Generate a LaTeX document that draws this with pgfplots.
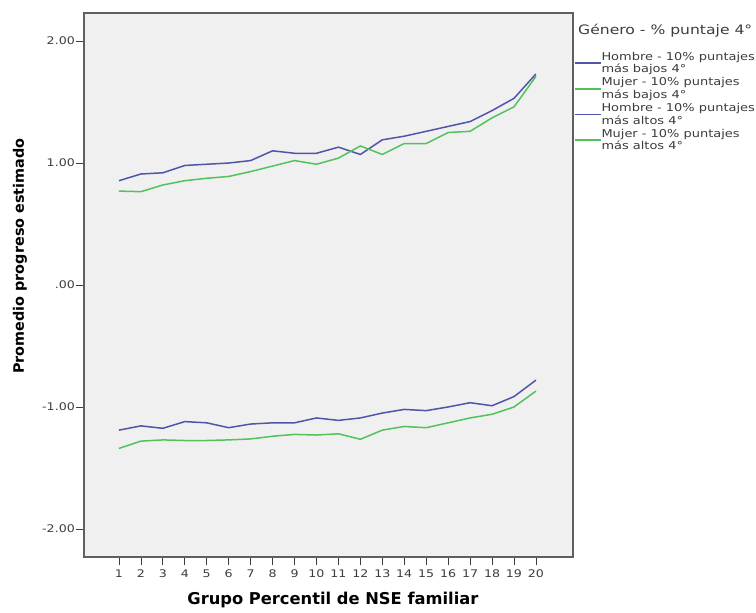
\documentclass[border=0pt]{standalone}
\usepackage{pgfplots}
\pgfplotsset{compat=1.18}
\usepackage{pgfplotstable}
\usepackage{fontspec}
\setmainfont{DejaVu Sans}
\newfontfamily\wide{DejaVu Sans}[FakeStretch=1.2]
\definecolor{bgc}{RGB}{240,240,240}
\definecolor{framec}{RGB}{95,95,95}
\definecolor{blueline}{RGB}{80,85,170}
\definecolor{greenline}{RGB}{80,195,90}
\definecolor{tickc}{RGB}{60,60,60}

\pgfplotstableread{
x hb mb ha ma
1 -1.19 -1.34 0.855 0.77
2 -1.155 -1.28 0.91 0.765
3 -1.175 -1.27 0.92 0.82
4 -1.12 -1.275 0.98 0.855
5 -1.13 -1.275 0.99 0.875
6 -1.17 -1.27 1.00 0.89
7 -1.14 -1.262 1.02 0.93
8 -1.13 -1.24 1.10 0.975
9 -1.13 -1.225 1.08 1.02
10 -1.09 -1.23 1.08 0.99
11 -1.11 -1.22 1.13 1.04
12 -1.09 -1.265 1.07 1.14
13 -1.05 -1.19 1.19 1.07
14 -1.02 -1.16 1.22 1.16
15 -1.03 -1.17 1.26 1.16
16 -1.00 -1.13 1.30 1.25
17 -0.965 -1.09 1.34 1.26
18 -0.99 -1.06 1.43 1.37
19 -0.915 -1.00 1.53 1.46
20 -0.78 -0.87 1.73 1.71
}\datatab

\begin{document}
\begin{tikzpicture}
\begin{axis}[
  scale only axis,
  width=489pt, height=544pt,
  xmin=-0.594, xmax=21.69,
  ymin=-2.23, ymax=2.23,
  axis background/.style={fill=bgc},
  axis line style={framec, line width=1.2pt},
  xtick={1,...,20},
  xticklabels={1,2,3,4,5,6,7,8,9,10,11,12,13,14,15,16,17,18,19,20},
  ytick={-2,-1,0,1,2},
  yticklabels={-2.00,-1.00,.00,1.00,2.00},
  xtick pos=bottom, ytick pos=left,
  tick align=outside,
  major tick length=8pt,
  tick style={tickc, line width=0.8pt},
  ticklabel style={font=\wide\fontsize{10.5}{12}\selectfont, text=tickc},
  yticklabel style={inner sep=1pt},
  xticklabel style={inner sep=1pt, yshift=-4pt},
  xlabel={Grupo Percentil de NSE familiar},
  ylabel={Promedio progreso estimado},
  xlabel style={font=\bfseries\fontsize{16.3}{18}\selectfont, at={(axis description cs:0.509,-0.079)}, anchor=center},
  ylabel style={font=\bfseries\fontsize{14.4}{16}\selectfont, at={(axis description cs:-0.131,0.553)}, anchor=center},
  legend style={at={(1,1)}, anchor=north west, xshift=1pt, yshift=-39pt,
    draw=none, fill=none, inner sep=0pt, outer sep=0pt,
    row sep=3.5pt,
    nodes={align=left, inner sep=0pt, font=\wide\fontsize{10.8}{12.5}\selectfont, text=tickc},
    /tikz/every even column/.append style={column sep=2pt}},
  legend cell align=left,
  legend image code/.code={\draw[#1] (0pt,0pt) -- (26pt,0pt);},
]
\addplot[blueline, line width=1.5pt] table[x=x, y=hb] {\datatab};
\addlegendentry{Hombre - 10\% puntajes\\más bajos 4°}
\addplot[greenline, line width=1.5pt] table[x=x, y=mb] {\datatab};
\addlegendentry{Mujer - 10\% puntajes\\más bajos 4°}
\addplot[blueline, line width=1.5pt] table[x=x, y=ha] {\datatab};
\addlegendentry{Hombre - 10\% puntajes\\más altos 4°}
\addplot[greenline, line width=1.5pt] table[x=x, y=ma] {\datatab};
\addlegendentry{Mujer - 10\% puntajes\\más altos 4°}
\end{axis}
\node[anchor=base west, font=\wide\fontsize{13}{15}\selectfont, text=tickc, inner sep=0pt] at ([xshift=5pt,yshift=-22pt]current axis.north east) {Género - \% puntaje 4°};
\pgfresetboundingbox
\path[use as bounding box] ([xshift=-84pt,yshift=-56pt]current axis.south west) rectangle ++(756pt,613pt);
\end{tikzpicture}
\end{document}
